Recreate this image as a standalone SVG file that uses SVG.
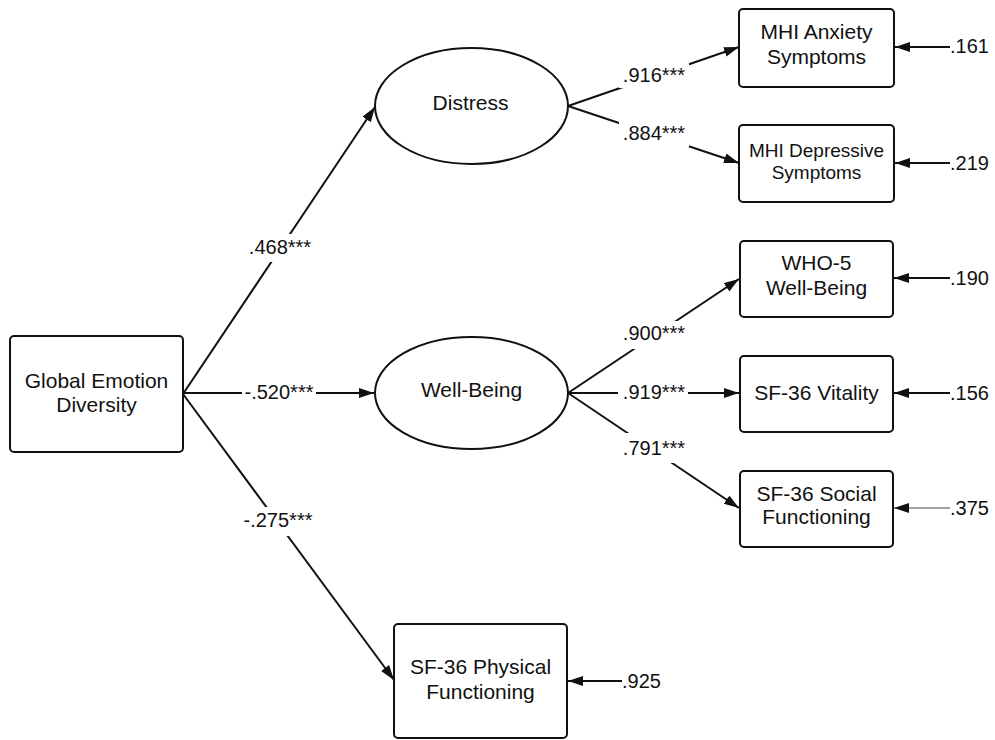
<svg xmlns="http://www.w3.org/2000/svg" width="995" height="740" viewBox="0 0 995 740">
<defs>
<style>
.box{fill:#fff;stroke:#111;stroke-width:2}
.t{font-family:"Liberation Sans",Arial,sans-serif;font-size:21px;fill:#111;text-anchor:middle}
.s{font-size:19px}
.lab{font-family:"Liberation Sans",Arial,sans-serif;font-size:20px;fill:#111;text-anchor:middle}
.err{font-family:"Liberation Sans",Arial,sans-serif;font-size:20px;fill:#111}
.ln{stroke:#111;stroke-width:2;fill:none;marker-end:url(#ah)}
.thin{stroke:#444;stroke-width:1.2}
.bg{fill:#fff}
</style>
<marker id="ah" markerUnits="userSpaceOnUse" markerWidth="16" markerHeight="11" refX="15" refY="5" orient="auto">
<path d="M0,0 L15,5 L0,10 z" fill="#111"/>
</marker>
</defs>
<rect width="995" height="740" fill="#fff"/>
<g id="connectors">
<line class="ln" x1="183" y1="394" x2="375" y2="107"/>
<line class="ln" x1="183" y1="393" x2="374" y2="393"/>
<line class="ln" x1="183" y1="394" x2="394" y2="680"/>
<line class="ln" x1="568" y1="106" x2="739" y2="47"/>
<line class="ln" x1="568" y1="106" x2="739" y2="163"/>
<line class="ln" x1="568" y1="393" x2="739" y2="279"/>
<line class="ln" x1="568" y1="393" x2="739" y2="393"/>
<line class="ln" x1="568" y1="393" x2="739" y2="508"/>
<line class="ln" x1="950" y1="47" x2="895" y2="47"/>
<line class="ln" x1="950" y1="163" x2="895" y2="163"/>
<line class="ln" x1="950" y1="278" x2="894" y2="278"/>
<line class="ln" x1="950" y1="393" x2="894" y2="393"/>
<line class="ln thin" x1="950" y1="508" x2="894" y2="508"/>
<line class="ln" x1="622" y1="681" x2="568" y2="681"/>
</g>
<g id="labels">
<rect class="bg" x="245" y="234" width="70" height="28"/><text class="lab" x="280" y="254">.468***</text>
<rect class="bg" x="242" y="380" width="74" height="26"/><text class="lab" x="279" y="399">-.520***</text>
<rect class="bg" x="240" y="507" width="76" height="29"/><text class="lab" x="278" y="527">-.275***</text>
<rect class="bg" x="619" y="63" width="70" height="25"/><text class="lab" x="654" y="82">.916***</text>
<rect class="bg" x="619" y="121" width="70" height="26"/><text class="lab" x="654" y="140">.884***</text>
<rect class="bg" x="620" y="321" width="68" height="28"/><text class="lab" x="654" y="340">.900***</text>
<rect class="bg" x="618" y="380" width="70" height="26"/><text class="lab" x="654" y="399">.919***</text>
<rect class="bg" x="620" y="433" width="68" height="30"/><text class="lab" x="654" y="455">.791***</text>
<text class="err" x="950" y="53">.161</text>
<text class="err" x="950" y="170">.219</text>
<text class="err" x="950" y="285">.190</text>
<text class="err" x="950" y="400">.156</text>
<text class="err" x="950" y="515">.375</text>
<text class="err" x="622" y="688">.925</text>
</g>
<g id="ged">
<rect class="box" x="10" y="336" width="173" height="116" rx="4"/>
<text class="t" x="96.5" y="387.5">Global Emotion</text>
<text class="t" x="96.5" y="412">Diversity</text>
</g>
<g id="distress">
<ellipse class="box" cx="471.5" cy="106" rx="96.5" ry="58"/>
<text class="t" x="470.5" y="109.5">Distress</text>
</g>
<g id="wellbeing">
<ellipse class="box" cx="471.5" cy="393" rx="96.5" ry="56"/>
<text class="t" x="471.5" y="397">Well-Being</text>
</g>
<g id="mhi-anxiety">
<rect class="box" x="739" y="9" width="155" height="78" rx="4"/>
<text class="t" x="816.5" y="38.5">MHI Anxiety</text>
<text class="t" x="816.5" y="64">Symptoms</text>
</g>
<g id="mhi-depressive">
<rect class="box" x="739" y="125" width="155" height="77" rx="4"/>
<text class="t s" x="816.5" y="157">MHI Depressive</text>
<text class="t s" x="816.5" y="179">Symptoms</text>
</g>
<g id="who5">
<rect class="box" x="740" y="241" width="153" height="76" rx="4"/>
<text class="t" x="816.5" y="269.5">WHO-5</text>
<text class="t" x="816.5" y="295">Well-Being</text>
</g>
<g id="vitality">
<rect class="box" x="740" y="356" width="153" height="76" rx="4"/>
<text class="t" x="816.5" y="400">SF-36 Vitality</text>
</g>
<g id="social">
<rect class="box" x="740" y="471" width="153" height="76" rx="4"/>
<text class="t" x="816.5" y="500.5">SF-36 Social</text>
<text class="t" x="816.5" y="524">Functioning</text>
</g>
<g id="physical">
<rect class="box" x="394" y="624" width="173" height="114" rx="4"/>
<text class="t" x="480.5" y="674">SF-36 Physical</text>
<text class="t" x="480.5" y="699">Functioning</text>
</g>
</svg>
